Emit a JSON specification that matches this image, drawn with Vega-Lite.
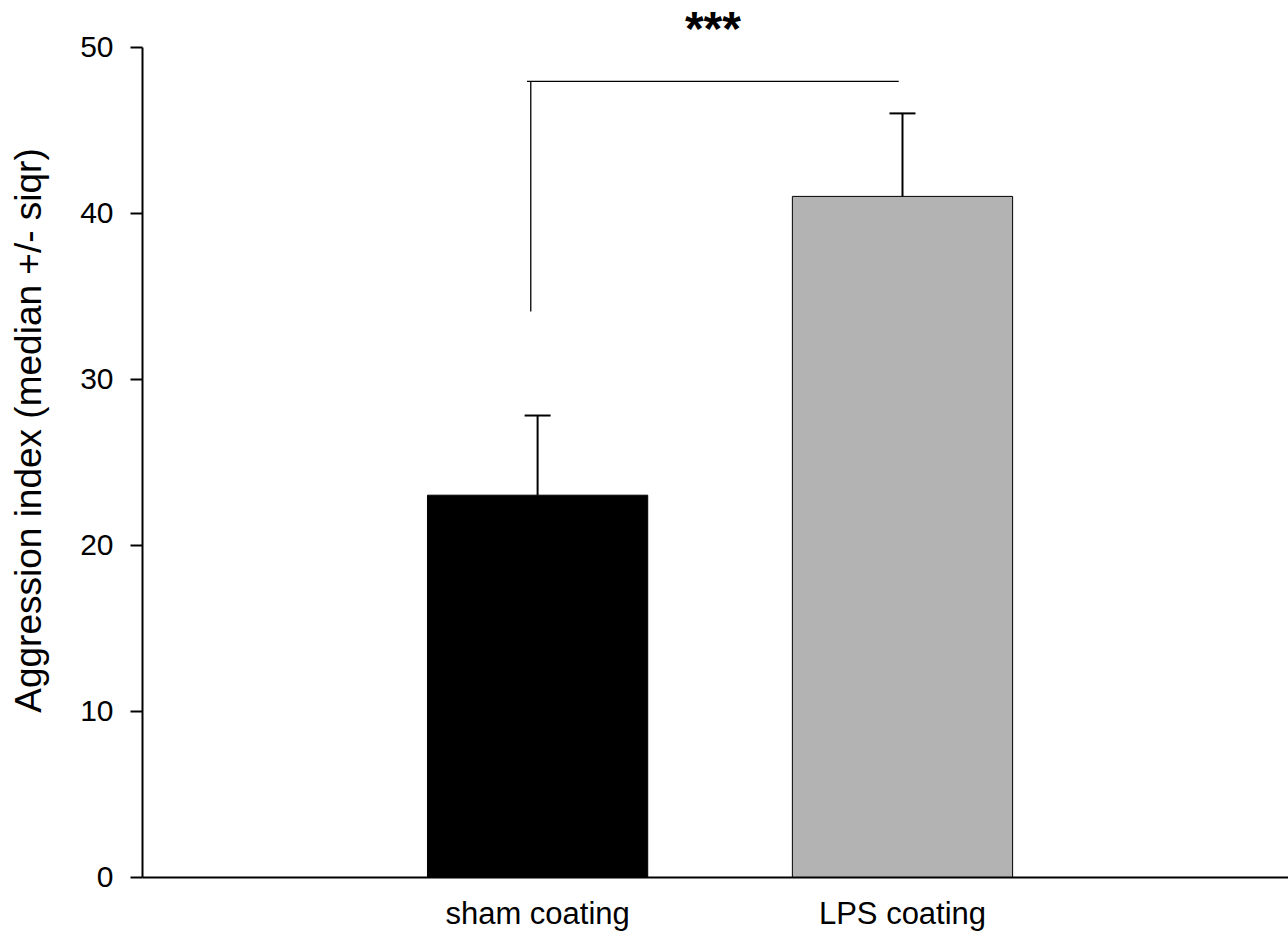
{
  "$schema": "https://vega.github.io/schema/vega-lite/v6.json",
  "width": 1146,
  "height": 830,
  "autosize": {"type": "none"},
  "padding": {"left": 142, "top": 47, "right": 0, "bottom": 55},
  "background": "white",
  "config": {
    "view": {"stroke": null},
    "font": "Liberation Sans",
    "axis": {"grid": false, "labelColor": "black", "titleColor": "black", "domainColor": "black", "tickColor": "black", "labelFont": "Liberation Sans", "titleFont": "Liberation Sans"}
  },
  "datasets": {
    "bars": [
      {"group": "sham coating", "median": 23, "upper": 27.8},
      {"group": "LPS coating", "median": 41, "upper": 46}
    ],
    "bracket": [
      {"from": "sham coating", "to": "LPS coating", "top": 47.93, "low": 34.07, "label": "***", "labelY": 50.1}
    ]
  },
  "layer": [
    {
      "data": {"name": "bars"},
      "mark": {"type": "bar", "stroke": "black", "strokeWidth": 1},
      "encoding": {
        "x": {
          "field": "group", "type": "nominal", "sort": null,
          "scale": {"paddingInner": 0.3964, "paddingOuter": 0.7685, "align": 0.509},
          "axis": {"title": null, "labelAngle": 0, "ticks": false, "tickSize": 0, "labelFontSize": 31, "labelPadding": 22, "labelLimit": 0, "labelOverlap": false, "domainWidth": 2}
        },
        "y": {
          "field": "median", "type": "quantitative",
          "scale": {"domain": [0, 50], "nice": false},
          "axis": {
            "title": "Aggression index (median +/- siqr)",
            "values": [0, 10, 20, 30, 40, 50],
            "tickSize": 12, "tickWidth": 2, "domainWidth": 2,
            "labelFontSize": 30, "labelPadding": 17,
            "titleFontSize": 37, "titleFontWeight": "normal",
            "titleBaseline": "alphabetic", "titleAngle": 270,
            "titleX": -102, "titleY": 383
          }
        },
        "color": {
          "field": "group", "type": "nominal",
          "scale": {"domain": ["sham coating", "LPS coating"], "range": ["#000000", "#b3b3b3"]},
          "legend": null
        }
      }
    },
    {
      "data": {"name": "bars"},
      "mark": {"type": "rule", "color": "black", "strokeWidth": 2},
      "encoding": {
        "x": {"field": "group", "type": "nominal", "sort": null},
        "y": {"field": "median", "type": "quantitative"},
        "y2": {"field": "upper"}
      }
    },
    {
      "data": {"name": "bars"},
      "mark": {"type": "tick", "color": "black", "size": 26, "thickness": 2, "opacity": 1},
      "encoding": {
        "x": {"field": "group", "type": "nominal", "sort": null},
        "y": {"field": "upper", "type": "quantitative"}
      }
    },
    {
      "data": {"name": "bracket"},
      "mark": {"type": "rule", "color": "black", "strokeWidth": 1.3},
      "encoding": {
        "x": {"field": "from", "type": "nominal", "sort": null, "bandPosition": 0.452},
        "x2": {"field": "to", "bandPosition": 0.483},
        "y": {"field": "top", "type": "quantitative"}
      }
    },
    {
      "data": {"name": "bracket"},
      "mark": {"type": "rule", "color": "black", "strokeWidth": 1.3},
      "encoding": {
        "x": {"field": "from", "type": "nominal", "sort": null, "bandPosition": 0.469},
        "y": {"field": "low", "type": "quantitative"},
        "y2": {"field": "top"}
      }
    },
    {
      "data": {"name": "bracket"},
      "mark": {"type": "text", "color": "black", "fontSize": 48, "fontWeight": "bold", "align": "center", "baseline": "alphabetic", "font": "Liberation Sans"},
      "encoding": {
        "x": {"field": "from", "type": "nominal", "sort": null, "bandPosition": 1.296},
        "y": {"field": "labelY", "type": "quantitative"},
        "text": {"field": "label"}
      }
    }
  ]
}
